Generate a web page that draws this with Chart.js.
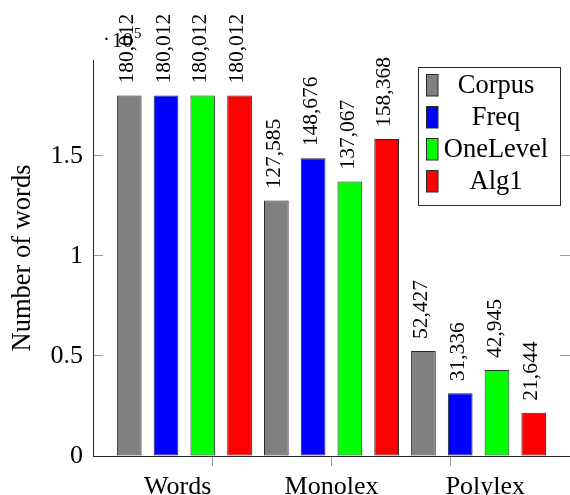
<!DOCTYPE html>
<html>
<head>
<meta charset="utf-8">
<script src="https://cdn.jsdelivr.net/npm/chart.js@4/dist/chart.umd.min.js"></script>
<style>
  html, body { margin: 0; padding: 0; background: #fff; overflow: hidden; }
  #wrap { width: 570px; height: 495px; }
</style>
</head>
<body>
<div id="wrap"><canvas id="chart" width="570" height="495"></canvas></div>
<script>
// Word counts per category for each method
const categories = ['Words', 'Monolex', 'Polylex'];
const seriesNames = ['Corpus', 'Freq', 'OneLevel', 'Alg1'];
const corpus   = [180012, 127585, 52427];
const freq     = [180012, 148676, 31336];
const oneLevel = [180012, 137067, 42945];
const alg1     = [180012, 158368, 21644];
const seriesValues = [corpus, freq, oneLevel, alg1];
const yTickValues = [0, 50000, 100000, 150000];
const yScaleFactor = 100000;   // values on the y axis are shown in units of 10^5
const yScaleExponent = '5';

const seriesColors = ['#808080', '#0000ff', '#00ff00', '#ff0000'];
const SERIF = "'Liberation Serif', 'Times New Roman', serif";
const INK = '#000';
const EDGE = '#2a2a2a';
const TICK_GRAY = '#9a9a9a';
const Y_MAX = 197800;

const categoryIndex = categories.map((_, i) => i);
const useTicks = values => scale => { scale.ticks = values.map(v => ({ value: v })); };

const datasets = seriesNames.map((name, s) => ({
  label: name,
  data: seriesValues[s].map((v, i) => ({ x: categoryIndex[i], y: v })),
  backgroundColor: seriesColors[s],
  borderColor: EDGE,
  borderWidth: 1,
  borderSkipped: false,
  categoryPercentage: 1,
  barPercentage: 0.672,
  xAxisID: 'x',
  yAxisID: 'y'
}));

// Rotated value labels above each bar
const valueLabels = {
  id: 'valueLabels',
  afterDatasetsDraw(chart) {
    const ctx = chart.ctx;
    ctx.save();
    ctx.font = `21.5px ${SERIF}`;
    ctx.fillStyle = INK;
    ctx.textAlign = 'left';
    ctx.textBaseline = 'middle';
    chart.data.datasets.forEach((ds, di) => {
      chart.getDatasetMeta(di).data.forEach((bar, i) => {
        const text = ds.data[i].y.toLocaleString('en-US');
        ctx.save();
        ctx.translate(bar.x - 2, bar.y - 12);
        ctx.rotate(-Math.PI / 2);
        ctx.fillText(text, 0, 0);
        ctx.restore();
      });
    });
    ctx.restore();
  }
};

// "·10^5" multiplier above the y axis
const axisMultiplier = {
  id: 'axisMultiplier',
  afterDraw(chart) {
    const { ctx, chartArea } = chart;
    ctx.save();
    ctx.fillStyle = INK;
    ctx.textBaseline = 'alphabetic';
    ctx.textAlign = 'left';
    const base = chartArea.top - 13;
    let x = chartArea.left + 10;
    ctx.font = `21px ${SERIF}`;
    ctx.fillText('\u00b7', x, base - 1);
    x += ctx.measureText('\u00b7').width + 2;
    ctx.fillText('10', x, base);
    x += ctx.measureText('10').width + 1;
    ctx.font = `15px ${SERIF}`;
    ctx.fillText(yScaleExponent, x, base - 9);
    ctx.restore();
  }
};

// Framed legend in the upper right of the plot
const boxedLegend = {
  id: 'boxedLegend',
  afterDraw(chart) {
    const ctx = chart.ctx;
    const left = 418.5, top = 67.5, width = 142, height = 138;
    const rowPitch = 32, firstRow = 85;
    ctx.save();
    ctx.fillStyle = '#fff';
    ctx.fillRect(left, top, width, height);
    ctx.strokeStyle = EDGE;
    ctx.lineWidth = 1;
    ctx.strokeRect(left, top, width, height);
    ctx.font = `26.5px ${SERIF}`;
    ctx.textAlign = 'center';
    ctx.textBaseline = 'middle';
    chart.data.datasets.forEach((ds, i) => {
      const cy = firstRow + i * rowPitch;
      ctx.fillStyle = ds.backgroundColor;
      ctx.fillRect(426.5, cy - 10.5, 11.5, 21.5);
      ctx.strokeStyle = EDGE;
      ctx.strokeRect(426.5, cy - 10.5, 11.5, 21.5);
      ctx.fillStyle = INK;
      ctx.fillText(ds.label, 496, cy + 1);
    });
    ctx.restore();
  }
};

new Chart(document.getElementById('chart'), {
  type: 'bar',
  data: { datasets },
  plugins: [valueLabels, axisMultiplier, boxedLegend],
  options: {
    responsive: false,
    animation: false,
    events: [],
    layout: { padding: { top: 60, left: 0, right: 0, bottom: 0 } },
    plugins: { legend: { display: false }, tooltip: { enabled: false } },
    scales: {
      // bar placement axis (hidden)
      x: {
        type: 'linear',
        display: false,
        offset: false,
        grid: { offset: false },
        weight: 0,
        min: 1 - 1.6214,
        max: 1 + 1.6214,
        afterBuildTicks: useTicks(categoryIndex)
      },
      // axis line with outward tick marks
      xTicks: {
        type: 'linear',
        position: 'bottom',
        offset: false,
        weight: 1,
        min: -1,
        max: 3,
        afterBuildTicks: useTicks(categoryIndex),
        ticks: { display: false },
        grid: { offset: false, drawOnChartArea: false, drawTicks: true, tickLength: 10, color: TICK_GRAY, lineWidth: 1 },
        border: { display: true, color: EDGE, width: 1 },
        afterFit: s => { s.height = 10; }
      },
      // category names
      xLabels: {
        type: 'linear',
        position: 'bottom',
        offset: false,
        weight: 2,
        min: 1 - 1.5502,
        max: 1 + 1.5502,
        afterBuildTicks: useTicks(categoryIndex),
        grid: { display: false, offset: false },
        border: { display: false },
        ticks: {
          autoSkip: false, maxRotation: 0, minRotation: 0,
          padding: -2,
          color: INK,
          font: { family: SERIF, size: 26 },
          callback: v => categories[v]
        },
        afterFit: s => { s.height = 29; }
      },
      y: {
        type: 'linear',
        position: 'left',
        min: 0,
        max: Y_MAX,
        afterBuildTicks: useTicks(yTickValues),
        ticks: {
          includeBounds: false,
          padding: 20,
          color: INK,
          font: { family: SERIF, size: 26 },
          callback: v => String(v / yScaleFactor)
        },
        grid: { drawOnChartArea: false, drawTicks: true, tickLength: -10, color: TICK_GRAY, lineWidth: 1 },
        border: { display: true, color: EDGE, width: 1 },
        title: {
          display: true,
          text: 'Number of words',
          color: INK,
          font: { family: SERIF, size: 26.5 },
          padding: { top: 7, bottom: 0 }
        },
        afterFit: s => { s.width = 93; }
      },
      yRight: {
        type: 'linear',
        position: 'right',
        min: 0,
        max: Y_MAX,
        afterBuildTicks: useTicks(yTickValues),
        ticks: { display: false },
        grid: { drawOnChartArea: false, drawTicks: true, tickLength: -10, color: TICK_GRAY, lineWidth: 1 },
        border: { display: false },
        afterFit: s => { s.width = 0; }
      }
    }
  }
});
</script>
</body>
</html>
